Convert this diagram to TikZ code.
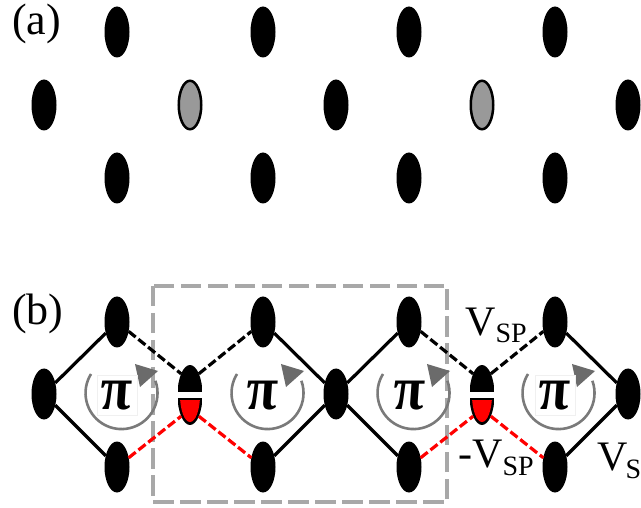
\documentclass[tikz,border=0pt]{standalone}
\usepackage{fontspec}
\setmainfont{Liberation Serif}
\usetikzlibrary{shapes.geometric,calc}
\definecolor{cellgray}{HTML}{A8A8A8}
\definecolor{loopgray}{HTML}{7A7A7A}
\definecolor{tipgray}{HTML}{6B6B6B}
\tikzset{
  site/.style={ellipse, fill=black, minimum width=25pt, minimum height=51pt, inner sep=0pt, outer sep=0pt},
  graysite/.style={ellipse, draw=black, line width=2.5pt, fill=black!40, minimum width=22.5pt, minimum height=48.5pt, inner sep=0pt, outer sep=0pt},
  orbital/.style={ellipse, minimum width=25pt, minimum height=60pt, inner sep=0pt, outer sep=0pt,
    path picture={
      \fill[black] (path picture bounding box.south west) rectangle (path picture bounding box.north east);
      \begin{scope}
        \clip ([yshift=-5.5pt]path picture bounding box.west) rectangle (path picture bounding box.south east);
        \fill[red] (path picture bounding box.center) ellipse (10pt and 27pt);
      \end{scope}
      \fill[white] ([yshift=3pt]path picture bounding box.west) rectangle ([yshift=-2.5pt]path picture bounding box.east);
    }},
  hop/.style={line width=3.2pt},
  hopdash/.style={line width=3.2pt, dash pattern=on 9pt off 3.5pt},
  hopred/.style={hopdash, draw=red},
  cell/.style={draw=cellgray, line width=3.6pt, dash pattern=on 20.5pt off 6.5pt},
  loopline/.style={draw=loopgray, line width=2.6pt},
  looptip/.style={fill=tipgray},
  flux/.style={font=\fontsize{62}{62}\selectfont\bfseries\itshape, inner sep=0pt, xscale=0.92, xslant=-0.1, transform shape},
  fluxbox/.style={draw=black!6, line width=0.6pt, fill=white, inner sep=0pt, minimum size=40pt},
  panel/.style={font=\fontsize{44}{44}\selectfont, inner sep=0pt, anchor=base west},
  hoplabel/.style={font=\fontsize{42}{42}\selectfont, inner sep=0pt, anchor=base west}
}
\newcommand{\subtext}[1]{\raisebox{-8pt}{\fontsize{28}{28}\selectfont #1}}
\begin{document}
\begin{tikzpicture}[x=1pt, y=-1pt]
  \useasboundingbox (0,0) rectangle (641,508);
  % panel a
  \node[panel] (la) at (12,35) {(a)};
  \foreach \x in {117,263,409,555} {
    \node[site] at (\x,32) {};
    \node[site] at (\x,178) {};
  }
  \foreach \x in {44,336,628} \node[site] at (\x,105) {};
  \foreach \x in {190,482} \node[graysite] at (\x,105) {};
  % panel b
  \node[panel] (lb) at (12,324) {(b)};
  \draw[cell] (153,286) rectangle (447,502);
  \node[site] (t1) at (117,322) {};
  \node[site] (t2) at (263,322) {};
  \node[site] (t3) at (409,322) {};
  \node[site] (t4) at (555,322) {};
  \node[site] (d1) at (117,467) {};
  \node[site] (d2) at (263,467) {};
  \node[site] (d3) at (409,467) {};
  \node[site] (d4) at (555,467) {};
  \node[site] (m1) at (44,394) {};
  \node[site] (m2) at (336,394) {};
  \node[site] (m3) at (628,394) {};
  \node[orbital] (s1) at (190,395) {};
  \node[orbital] (s2) at (482,395) {};
  \draw[hop] (m1) -- (t1);
  \draw[hop] (m1) -- (d1);
  \draw[hop] (t2) -- (m2);
  \draw[hop] (d2) -- (m2);
  \draw[hop] (m2) -- (t3);
  \draw[hop] (m2) -- (d3);
  \draw[hop] (t4) -- (m3);
  \draw[hop] (d4) -- (m3);
  \draw[hopdash] (t1) -- (s1.north west);
  \draw[hopdash] (s1.north east) -- (t2);
  \draw[hopdash] (t3) -- (s2.north west);
  \draw[hopdash] (s2.north east) -- (t4);
  \draw[hopred] (d1) -- (s1.south west);
  \draw[hopred] (s1.south east) -- (d2);
  \draw[hopred] (d3) -- (s2.south west);
  \draw[hopred] (s2.south east) -- (d4);
  % flux loops
  \foreach \x in {118,264,410,555} {
    \draw[loopline] (\x-27,374) arc[start angle=148, end angle=380, radius=36pt];
    \fill[looptip] (\x+17,364) -- (\x+40,371) -- (\x+22,387) -- cycle;
  }
  \node[fluxbox] (b1) at (117,395) {};
  \node[fluxbox] (b4) at (555,395) {};
  \node[flux] (p1) at (117,396) {π};
  \node[flux] (p2) at (263,396) {π};
  \node[flux] (p3) at (410,396) {π};
  \node[flux] (p4) at (555,396) {π};
  \node[hoplabel] (vsp) at (465,335) {V\subtext{SP}};
  \node[hoplabel] (vmsp) at (458,467) {-V\subtext{SP}};
  \node[hoplabel] (vs) at (597,470) {V\kern-2pt\subtext{S}};
\end{tikzpicture}
\end{document}
